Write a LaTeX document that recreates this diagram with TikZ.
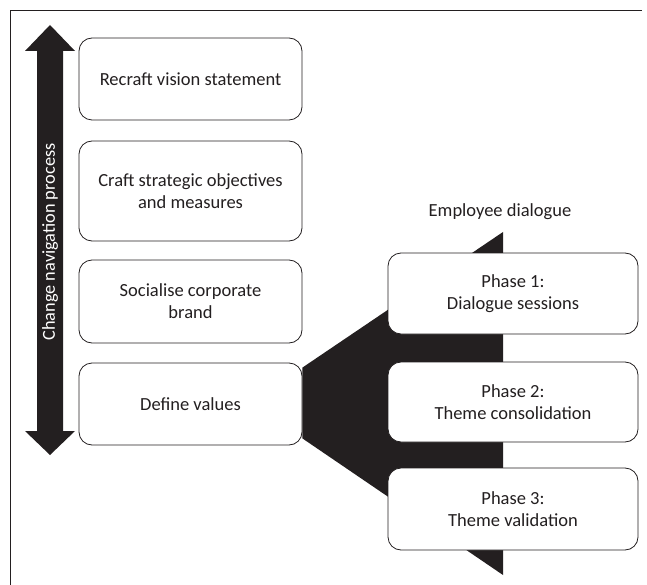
\documentclass[tikz,border=0pt]{standalone}
\usepackage{fontspec}
\setmainfont{Carlito}
\usepackage{tikz}
\usetikzlibrary{calc}
\definecolor{ink}{HTML}{231F20}

\tikzset{
  stepbox/.style={draw=ink, thick, rounded corners=13pt, fill=white, align=center,
    text=ink, font=\fontsize{18.5}{22}\selectfont, inner sep=0pt},
  leftbox/.style={stepbox, minimum width=223pt},
  phasebox/.style={stepbox, minimum width=250pt}
}

\begin{document}
\begin{tikzpicture}[x=1pt, y=-1pt]
\useasboundingbox (0,0) rectangle (647,585);
% frame
\draw[ink, line width=0.8pt] (10,585) -- (10,10) -- (642,10);

% double arrow on the left
\fill[ink] (50,25) -- (75,51) -- (63,51) -- (63,431) -- (75,431) -- (50,455)
  -- (25,431) -- (37,431) -- (37,51) -- (25,51) -- cycle;
\node (proc) [rotate=90, text=white, font=\fontsize{18.3}{22}\selectfont] at (50,242) {Change navigation process};

% left column
\node (vision) [leftbox, minimum height=82pt] at (190.5,79) {Recraft vision statement};
\node (objectives) [leftbox, minimum height=100pt] at (190.5,191) {Craft strategic objectives\\and measures};
\node (brand) [leftbox, minimum height=83pt] at (190.5,301.5) {Socialise corporate\\brand};
\node (define) [leftbox, minimum height=82pt] at (190.5,404) {Define values};

% funnel to the dialogue phases
\coordinate (ftop) at (503,232);
\coordinate (fbot) at (503,575);
\fill[ink] ([yshift=-5pt]define.north east) -- (ftop) -- (fbot) -- ([yshift=7pt]define.south east) -- cycle;
\node (dialogue) [text=ink, font=\fontsize{18.5}{22}\selectfont] at (500,212) {Employee dialogue};

% right column
\node (phase1) [phasebox, minimum height=81pt] at (513,293.5) {Phase 1:\\Dialogue sessions};
\node (phase2) [phasebox, minimum height=80pt] at (513,402) {Phase 2:\\Theme consolidation};
\node (phase3) [phasebox, minimum height=82pt] at (513,509) {Phase 3:\\Theme validation};
\end{tikzpicture}
\end{document}
